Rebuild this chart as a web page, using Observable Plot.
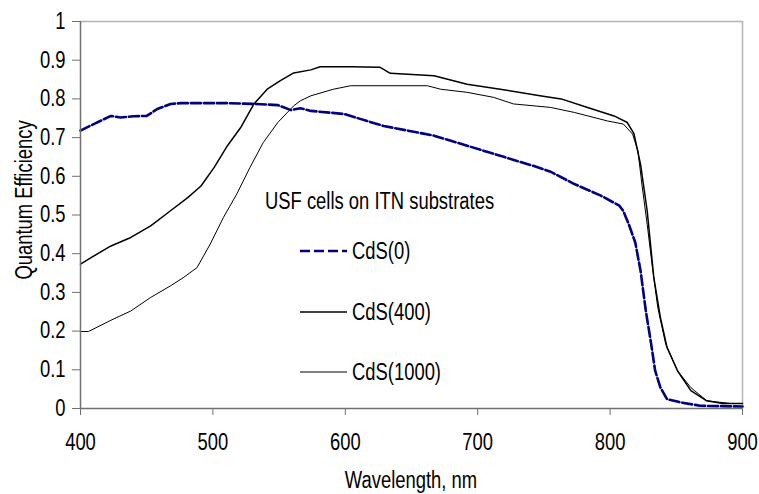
<!DOCTYPE html>
<html><head><meta charset="utf-8">
<script src="https://cdn.jsdelivr.net/npm/d3@7"></script>
<script src="https://cdn.jsdelivr.net/npm/@observablehq/plot@0.6"></script>
<style>body{margin:0;background:#fff} svg{display:block}</style>
</head><body><div id="chart"></div>
<script>
const seriesNames = ["CdS(0)", "CdS(400)", "CdS(1000)"];
const legendTitle = "USF cells on ITN substrates";
const xLabel = "Wavelength, nm";
const yLabel = "Quantum Efficiency";
const xTicks = [400, 500, 600, 700, 800, 900];
const yTicks = [0, 0.1, 0.2, 0.3, 0.4, 0.5, 0.6, 0.7, 0.8, 0.9, 1];

const wl0 = [400,410,423,430,440,450,458,468,476,511,531,549,559,566,574,599,629,667,692,717,742,755,773,793,807,810,814,819,823,827,831,834,838,843,853,868,900];
const qe0 = [0.718,0.735,0.756,0.752,0.755,0.756,0.774,0.787,0.789,0.789,0.787,0.784,0.771,0.776,0.769,0.761,0.730,0.705,0.679,0.653,0.627,0.612,0.580,0.550,0.524,0.510,0.477,0.429,0.356,0.252,0.167,0.098,0.054,0.024,0.016,0.007,0.005];

const wl400 = [400,408,423,438,453,468,481,491,501,511,521,531,541,551,561,574,581,604,626,634,667,692,717,747,763,783,803,813,818,823,828,833,838,843,851,861,873,885,900];
const qe400 = [0.373,0.390,0.420,0.442,0.472,0.511,0.545,0.575,0.623,0.679,0.726,0.787,0.825,0.847,0.867,0.875,0.883,0.883,0.882,0.866,0.860,0.838,0.825,0.808,0.800,0.778,0.756,0.739,0.710,0.631,0.511,0.339,0.235,0.158,0.097,0.046,0.020,0.013,0.013];

const wl1000 = [400,406,423,438,453,468,478,488,498,508,518,528,538,549,561,566,574,591,604,662,672,692,712,727,755,773,798,810,817,821,824,828,832,836,842,851,861,873,891,900];
const qe1000 = [0.199,0.199,0.228,0.252,0.287,0.317,0.339,0.364,0.425,0.494,0.554,0.623,0.687,0.739,0.782,0.795,0.808,0.825,0.834,0.834,0.825,0.817,0.804,0.787,0.778,0.765,0.743,0.735,0.709,0.666,0.580,0.476,0.364,0.261,0.166,0.097,0.054,0.020,0.013,0.013];

const seriesWl = [wl0, wl400, wl1000];
const seriesQe = [qe0, qe400, qe1000];
const styles = [
  {stroke: "#000080", strokeWidth: 2.6, dash: "10,3", legendDash: "10,4"},
  {stroke: "#000000", strokeWidth: 1.5, dash: null, legendDash: null},
  {stroke: "#000000", strokeWidth: 1, dash: null, legendDash: null}
];

const rows = seriesNames.map((name, i) => seriesWl[i].map((w, j) => ({series: name, wl: w, qe: seriesQe[i][j]})));

const font = "'Liberation Sans', Arial, sans-serif";
const fmt = d => String(+d.toFixed(1));

const chart = Plot.plot({
  width: 759, height: 494,
  marginLeft: 80, marginRight: 17, marginTop: 21, marginBottom: 86,
  style: {fontFamily: font, fontSize: "23px", color: "#000", background: "#fff"},
  x: {domain: [400, 900]},
  y: {domain: [0, 1]},
  marks: [
    Plot.ruleY([1], {stroke: "#b4b4b4", strokeWidth: 1.5}),
    Plot.ruleX([900], {stroke: "#b4b4b4", strokeWidth: 1.5}),
    Plot.axisX({ticks: xTicks, tickSize: 7, tickPadding: 18, tickFormat: d => String(d), stroke: "#707070", fill: "#000", label: null}),
    Plot.axisY({ticks: yTicks, tickSize: 8, tickPadding: 7, tickFormat: fmt, stroke: "#707070", fill: "#000", label: null}),
    ...rows.map((r, i) => Plot.line(r, {x: "wl", y: "qe", stroke: styles[i].stroke, strokeWidth: styles[i].strokeWidth, strokeDasharray: styles[i].dash || undefined})),
    Plot.ruleY([0], {stroke: "#707070", strokeWidth: 1.5}),
    Plot.ruleX([400], {stroke: "#707070", strokeWidth: 1.5})
  ]
});

const svg = d3.select(chart);
// y-axis label
svg.append("text")
  .attr("transform", "translate(24,200) rotate(-90)")
  .attr("text-anchor", "middle").attr("dy", "0.35em")
  .attr("font-family", font).attr("font-size", 23).attr("fill", "#000")
  .text(yLabel);
// x-axis label
svg.append("text")
  .attr("x", 411).attr("y", 480)
  .attr("text-anchor", "middle").attr("dy", "0.35em")
  .attr("font-family", font).attr("font-size", 23).attr("fill", "#000")
  .text(xLabel);
// legend
const lg = svg.append("g").attr("font-family", font).attr("font-size", 23).attr("fill", "#000").attr("text-anchor", "start");
lg.append("text").attr("x", 265).attr("y", 201).attr("dy", "0.35em").text(legendTitle);
const legendY = [251, 312, 372];
seriesNames.forEach((name, i) => {
  lg.append("line")
    .attr("x1", 300).attr("x2", 347).attr("y1", legendY[i]).attr("y2", legendY[i])
    .attr("stroke", styles[i].stroke).attr("stroke-width", styles[i].strokeWidth)
    .attr("stroke-dasharray", styles[i].legendDash);
  lg.append("text").attr("x", 352).attr("y", legendY[i]).attr("dy", "0.35em").text(name);
});

document.getElementById("chart").appendChild(chart);
// narrow the glyphs (reference uses a condensed sans face)
chart.querySelectorAll("text").forEach(t => {
  const len = t.getComputedTextLength();
  if (len > 0) {
    t.setAttribute("textLength", (len * 0.8).toFixed(1));
    t.setAttribute("lengthAdjust", "spacingAndGlyphs");
  }
});
</script>
</body></html>
